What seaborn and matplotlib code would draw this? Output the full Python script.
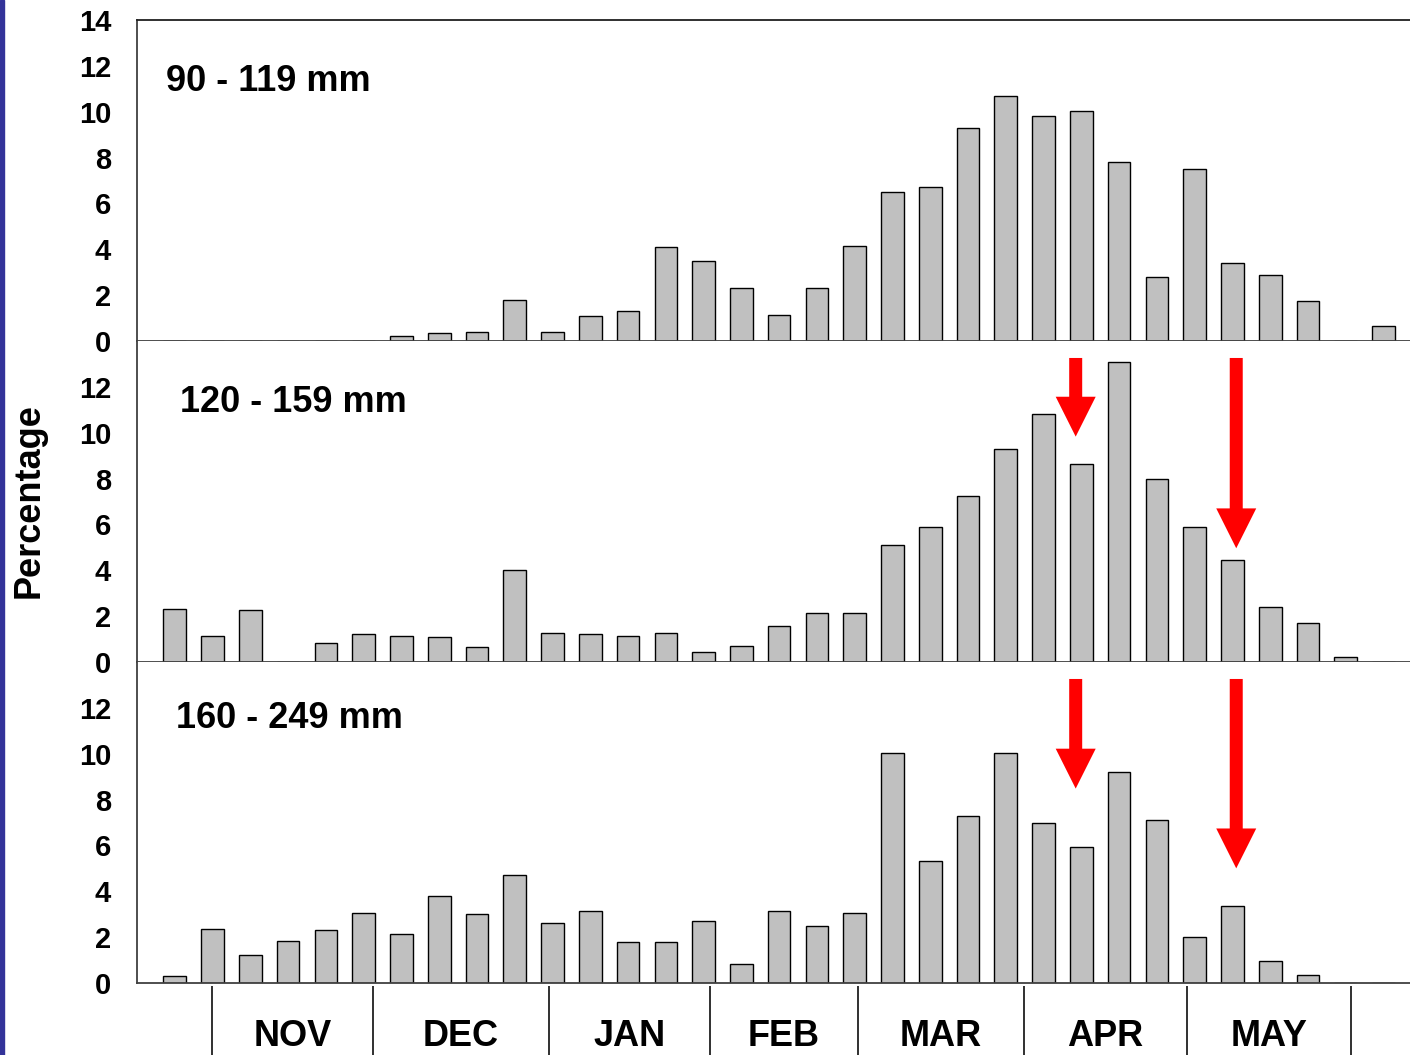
import matplotlib
matplotlib.use("Agg")
import matplotlib.pyplot as plt
import seaborn as sns
import pandas as pd
import numpy as np

# ---------------- data ----------------
weeks = list(range(1, 34))
pct_90_119 = [0, 0, 0, 0, 0, 0, 0.22, 0.35, 0.4, 1.8, 0.4, 1.1, 1.3, 4.1, 3.5, 2.3, 1.15,
              2.3, 4.15, 6.5, 6.7, 9.3, 10.7, 9.8, 10.05, 7.8, 2.8, 7.5, 3.4, 2.9, 1.75, 0, 0.65]
pct_120_159 = [2.3, 1.15, 2.25, 0, 0.85, 1.2, 1.15, 1.1, 0.65, 4.0, 1.25, 1.2, 1.15, 1.25, 0.45,
               0.7, 1.55, 2.15, 2.15, 5.1, 5.9, 7.25, 9.3, 10.8, 8.65, 13.1, 8.0, 5.9, 4.45, 2.4,
               1.7, 0.22, 0]
pct_160_249 = [0.3, 2.35, 1.2, 1.85, 2.3, 3.05, 2.15, 3.8, 3.0, 4.7, 2.6, 3.15, 1.8, 1.8, 2.7,
               0.85, 3.15, 2.5, 3.05, 10.05, 5.3, 7.3, 10.05, 7.0, 5.95, 9.2, 7.1, 2.0, 3.35, 0.95,
               0.35, 0, 0]
panel_labels = ["90 - 119 mm", "120 - 159 mm", "160 - 249 mm"]
months = ["NOV", "DEC", "JAN", "FEB", "MAR", "APR", "MAY"]
month_bounds = [1.985, 6.247, 10.905, 15.167, 19.084, 23.478, 27.792, 32.133]
# arrows: (panel index, x position, top value, tip value)
arrows = [(1, 24.85, 13.26, 9.83), (1, 29.1, 13.26, 4.96),
          (2, 24.85, 13.26, 8.48), (2, 29.1, 13.26, 5.0)]

# ---------------- style ----------------
sns.set_style("white")
plt.rcParams['font.family'] = ['Liberation Sans', 'DejaVu Sans']
plt.rcParams['font.weight'] = 'bold'
plt.rcParams['text.color'] = 'black'
plt.rcParams['axes.labelcolor'] = 'black'
plt.rcParams['xtick.color'] = 'black'
plt.rcParams['ytick.color'] = 'black'

W, H = 1410, 1055
fig = plt.figure(figsize=(W / 100, H / 100), dpi=100)

left = 137 / W
width = 1 - left
ph = 321 / H
bottoms = [1 - 341 / H, 1 - 662 / H, 1 - 983 / H]
series = [pct_90_119, pct_120_159, pct_160_249]
label_pos = [(0.0228, 0.807), (0.0338, 0.807), (0.0306, 0.823)]

spine_col = "#404040"
axes = []
for i in range(3):
    ax = fig.add_axes([left, bottoms[i], width, ph])
    df = pd.DataFrame({"week": weeks, "pct": series[i]})
    sns.barplot(data=df, x="week", y="pct", native_scale=True, width=0.6,
                color="#C0C0C0", saturation=1, edgecolor="black", linewidth=1.0, ax=ax)
    ax.set_xlim(0, 33.7)
    ax.set_ylim(0, 14)
    if i == 0:
        ax.set_yticks(np.arange(0, 15, 2))
    else:
        ax.set_yticks(np.arange(0, 13, 2))
    ax.set_xlabel("")
    ax.set_ylabel("")
    ax.spines["right"].set_visible(False)
    ax.spines["top"].set_visible(i == 0)
    for s in ["left", "bottom", "top"]:
        ax.spines[s].set_color(spine_col)
        ax.spines[s].set_linewidth(1.3)
    ax.spines["top"].set_color("#202020")
    ax.tick_params(axis="y", direction="out", length=8.6, width=1.0, color=spine_col,
                   labelcolor="black", pad=10, labelsize=21)
    for t in ax.get_yticklabels():
        t.set_fontweight("bold")
    if i < 2:
        ax.set_xticks([])
    else:
        ax.set_xticks(weeks)
        ax.set_xticklabels([])
        ax.tick_params(axis="x", direction="out", length=3.6, width=1.0, color=spine_col)
    ax.text(label_pos[i][0], label_pos[i][1], panel_labels[i], transform=ax.transAxes,
            fontsize=26, fontweight="bold", ha="left", va="center", color="black")
    axes.append(ax)

# red arrows
for (pi, x, ytop, ytip) in arrows:
    ax = axes[pi]
    ax.arrow(x, ytop, 0, ytip - ytop, width=13 / 37.78, head_width=40 / 37.78,
             head_length=40 / 23, length_includes_head=True, color="#FF0000",
             linewidth=0, zorder=5)

# month band
band = fig.add_axes([left, 0, width, 72 / H])
band.set_xlim(0, 33.7)
band.set_ylim(0, 1)
band.axis("off")
band.vlines(month_bounds, 0, (1055 - 986) / 72, color="#202020", linewidth=1.3)
for k, m in enumerate(months):
    xc = (month_bounds[k] + month_bounds[k + 1]) / 2
    band.text(xc, (1055 - 1036) / 72, m, ha="center", va="center", fontsize=26,
              fontweight="bold", color="black")

# y label
fig.text(29 / W, 1 - 501 / H, "Percentage", rotation=90, ha="center", va="center",
         fontsize=26, fontweight="bold", color="black")

# left blue strip
fig.patches.append(plt.Rectangle((0, 0), 4 / W, 1, transform=fig.transFigure,
                                 color="#333399", zorder=10))

fig.savefig("out.png", dpi=100)
